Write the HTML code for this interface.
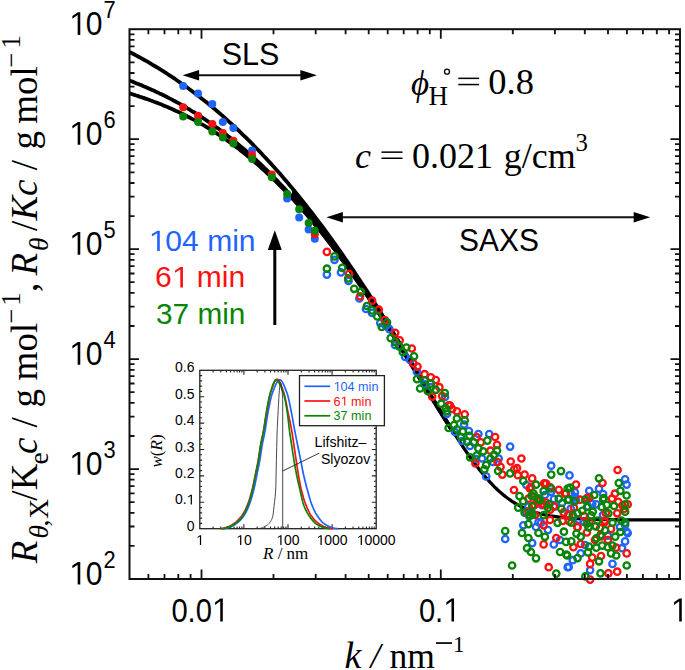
<!DOCTYPE html>
<html><head><meta charset="utf-8"><style>
html,body{margin:0;padding:0;background:#fff;}
svg{display:block;}
text{fill:#000;}
</style></head><body>
<svg width="685" height="670" viewBox="0 0 685 670">
<rect width="685" height="670" fill="#fff"/>
<path d="M129.5 93.4L131.5 94L133.5 94.6L135.5 95.3L137.5 95.9L139.5 96.6L141.5 97.2L143.5 97.9L145.5 98.6L147.5 99.3L149.5 100L151.5 100.7L153.5 101.5L155.5 102.2L157.5 103L159.5 103.8L161.5 104.6L163.5 105.4L165.5 106.3L167.5 107.1L169.5 108L171.5 108.8L173.5 109.7L175.5 110.7L177.5 111.6L179.5 112.5L181.5 113.5L183.5 114.5L185.5 115.5L187.5 116.5L189.5 117.5L191.5 118.6L193.5 119.6L195.5 120.7L197.5 121.8L199.5 122.9L201.5 124.1L203.5 125.2L205.5 126.4L207.5 127.6L209.5 128.8L211.5 130.1L213.5 131.3L215.5 132.6L217.5 133.9L219.5 135.2L221.5 136.6L223.5 137.9L225.5 139.3L227.5 140.7L229.5 142.1L231.5 143.6L233.5 145.1L235.5 146.6L237.5 148.1L239.5 149.6L241.5 151.2L243.5 152.7L245.5 154.3L247.5 156L249.5 157.6L251.5 159.3L253.5 161L255.5 162.7L257.5 164.4L259.5 166.2L261.5 168L263.5 169.8L265.5 171.6L267.5 173.5L269.5 175.4L271.5 177.3L273.5 179.2L275.5 181.2L277.5 183.1L279.5 185.1L281.5 187.2L283.5 189.2L285.5 191.3L287.5 193.4L289.5 195.5L291.5 197.6L293.5 199.8L295.5 202L297.5 204.2L299.5 206.4L301.5 208.7L303.5 211L305.5 213.3L307.5 215.6L309.5 218L311.5 220.4L313.5 222.8L315.5 225.2L317.5 227.6L319.5 230.1L321.5 232.6L323.5 235.1L325.5 237.7L327.5 240.2L329.5 242.8L331.5 245.4L333.5 248.1L335.5 250.7L337.5 253.4L339.5 256.1L341.5 258.8L343.5 261.5L345.5 264.3L347.5 267.1L349.5 269.9L351.5 272.7L353.5 275.5L355.5 278.4L357.5 281.3L359.5 284.1L361.5 287.1L363.5 290L365.5 292.9L367.5 295.9L369.5 298.9L371.5 301.9L373.5 304.9L375.5 308L377.5 311L379.5 314.1L381.5 317.2L383.5 320.3L385.5 323.4L387.5 326.5L389.5 329.7L391.5 332.8L393.5 336L395.5 339.2L397.5 342.4L399.5 345.6L401.5 348.8L403.5 352L405.5 355.2L407.5 358.5L409.5 361.7L411.5 365L413.5 368.2L415.5 371.5L417.5 374.8L419.5 378L421.5 381.3L423.5 384.6L425.5 387.8L427.5 391.1L429.5 394.4L431.5 397.6L433.5 400.9L435.5 404.1L437.5 407.4L439.5 410.6L441.5 413.8L443.5 417L445.5 420.2L447.5 423.3L449.5 426.5L451.5 429.6" stroke="#000" stroke-width="3.8" fill="none" stroke-linejoin="round"/>
<path d="M129.5 80.6L131.5 81.3L133.5 82.1L135.5 82.9L137.5 83.7L139.5 84.5L141.5 85.3L143.5 86.2L145.5 87L147.5 87.9L149.5 88.8L151.5 89.7L153.5 90.6L155.5 91.5L157.5 92.4L159.5 93.4L161.5 94.3L163.5 95.3L165.5 96.3L167.5 97.3L169.5 98.4L171.5 99.4L173.5 100.5L175.5 101.5L177.5 102.6L179.5 103.7L181.5 104.9L183.5 106L185.5 107.2L187.5 108.4L189.5 109.5L191.5 110.8L193.5 112L195.5 113.2L197.5 114.5L199.5 115.8L201.5 117.1L203.5 118.4L205.5 119.7L207.5 121.1L209.5 122.5L211.5 123.8L213.5 125.3L215.5 126.7L217.5 128.1L219.5 129.6L221.5 131.1L223.5 132.6L225.5 134.1L227.5 135.7L229.5 137.2L231.5 138.8L233.5 140.4L235.5 142.1L237.5 143.7L239.5 145.4L241.5 147.1L243.5 148.8L245.5 150.5L247.5 152.3L249.5 154L251.5 155.8L253.5 157.6L255.5 159.5L257.5 161.3L259.5 163.2L261.5 165.1L263.5 167L265.5 169L267.5 170.9L269.5 172.9L271.5 174.9L273.5 177L275.5 179L277.5 181.1L279.5 183.2L281.5 185.3L283.5 187.4L285.5 189.6L287.5 191.8L289.5 194L291.5 196.2L293.5 198.4L295.5 200.7L297.5 203L299.5 205.3L301.5 207.6L303.5 210L305.5 212.3L307.5 214.7L309.5 217.1L311.5 219.6L313.5 222L315.5 224.5L317.5 227L319.5 229.5L321.5 232.1L323.5 234.6L325.5 237.2L327.5 239.8L329.5 242.4L331.5 245.1L333.5 247.7L335.5 250.4L337.5 253.1L339.5 255.8L341.5 258.6L343.5 261.3L345.5 264.1L347.5 266.9L349.5 269.7L351.5 272.6L353.5 275.4L355.5 278.3L357.5 281.2L359.5 284.1L361.5 287L363.5 290L365.5 292.9L367.5 295.9L369.5 298.9L371.5 301.9L373.5 304.9L375.5 308L377.5 311L379.5 314.1L381.5 317.2L383.5 320.3L385.5 323.4L387.5 326.5L389.5 329.7L391.5 332.8L393.5 336L395.5 339.2L397.5 342.4L399.5 345.6L401.5 348.8L403.5 352L405.5 355.2L407.5 358.5L409.5 361.7L411.5 364.9L413.5 368.2L415.5 371.5L417.5 374.7L419.5 378L421.5 381.3L423.5 384.5L425.5 387.8L427.5 391.1L429.5 394.3L431.5 397.6L433.5 400.8L435.5 404.1L437.5 407.3L439.5 410.5L441.5 413.7L443.5 416.9L445.5 420.1L447.5 423.3L449.5 426.4L451.5 429.5" stroke="#000" stroke-width="3.8" fill="none" stroke-linejoin="round"/>
<path d="M129.5 51.9L131.5 53L133.5 54L135.5 55.1L137.5 56.2L139.5 57.2L141.5 58.3L143.5 59.5L145.5 60.6L147.5 61.7L149.5 62.9L151.5 64.1L153.5 65.3L155.5 66.5L157.5 67.7L159.5 68.9L161.5 70.2L163.5 71.4L165.5 72.7L167.5 74L169.5 75.3L171.5 76.6L173.5 77.9L175.5 79.3L177.5 80.7L179.5 82.1L181.5 83.5L183.5 84.9L185.5 86.3L187.5 87.8L189.5 89.2L191.5 90.7L193.5 92.2L195.5 93.7L197.5 95.2L199.5 96.8L201.5 98.4L203.5 99.9L205.5 101.5L207.5 103.1L209.5 104.8L211.5 106.4L213.5 108.1L215.5 109.8L217.5 111.5L219.5 113.2L221.5 114.9L223.5 116.7L225.5 118.5L227.5 120.3L229.5 122.1L231.5 123.9L233.5 125.7L235.5 127.6L237.5 129.5L239.5 131.4L241.5 133.3L243.5 135.3L245.5 137.2L247.5 139.2L249.5 141.2L251.5 143.2L253.5 145.2L255.5 147.3L257.5 149.3L259.5 151.4L261.5 153.5L263.5 155.7L265.5 157.8L267.5 160L269.5 162.1L271.5 164.3L273.5 166.6L275.5 168.8L277.5 171.1L279.5 173.3L281.5 175.6L283.5 177.9L285.5 180.3L287.5 182.6L289.5 185L291.5 187.4L293.5 189.8L295.5 192.2L297.5 194.7L299.5 197.1L301.5 199.6L303.5 202.1L305.5 204.7L307.5 207.2L309.5 209.8L311.5 212.3L313.5 214.9L315.5 217.6L317.5 220.2L319.5 222.8L321.5 225.5L323.5 228.2L325.5 230.9L327.5 233.6L329.5 236.4L331.5 239.2L333.5 241.9L335.5 244.7L337.5 247.6L339.5 250.4L341.5 253.2L343.5 256.1L345.5 259L347.5 261.9L349.5 264.8L351.5 267.8L353.5 270.7L355.5 273.7L357.5 276.7L359.5 279.7L361.5 282.7L363.5 285.8L365.5 288.8L367.5 291.9L369.5 295L371.5 298.1L373.5 301.2L375.5 304.3L377.5 307.5L379.5 310.6L381.5 313.8L383.5 317L385.5 320.2L387.5 323.4L389.5 326.6L391.5 329.9L393.5 333.1L395.5 336.4L397.5 339.6L399.5 342.9L401.5 346.2L403.5 349.5L405.5 352.8L407.5 356.1L409.5 359.5L411.5 362.8L413.5 366.1L415.5 369.5L417.5 372.8L419.5 376.2L421.5 379.5L423.5 382.9L425.5 386.2L427.5 389.5L429.5 392.9L431.5 396.2L433.5 399.6L435.5 402.9L437.5 406.2L439.5 409.5L441.5 412.8L443.5 416.1L445.5 419.3L447.5 422.6L449.5 425.8L451.5 429" stroke="#000" stroke-width="3.8" fill="none" stroke-linejoin="round"/>
<path d="M446 420.1L448 423.4L450 426.6L452 429.8L454 433L456 436.1L458 439.2L460 442.2L462 445.3L464 448.3L466 451.2L468 454.1L470 457L472 459.8L474 462.5L476 465.2L478 467.8L480 470.4L482 472.8L484 475.3L486 477.6L488 479.9L490 482.1L492 484.2L494 486.3L496 488.3L498 490.2L500 492L502 493.7L504 495.4L506 497L508 498.5L510 499.9L512 501.3L514 502.5L516 503.8L518 504.9L520 506L522 507L524 507.9L526 508.8L528 509.7L530 510.4L532 511.2L534 511.8L536 512.5L538 513L540 513.6L542 514.1L544 514.6L546 515L548 515.4L550 515.8L552 516.1L554 516.4L556 516.7L558 517L560 517.2L562 517.5L564 517.7L566 517.9L568 518L570 518.2L572 518.3L574 518.5L576 518.6L578 518.7L580 518.8L582 518.9L584 519L586 519.1L588 519.2L590 519.2L592 519.3L594 519.4L596 519.4L598 519.5L600 519.5L602 519.5L604 519.6L606 519.6L608 519.6L610 519.7L612 519.7L614 519.7L616 519.7L618 519.8L620 519.8L622 519.8L624 519.8L626 519.8L628 519.8L630 519.8L632 519.9L634 519.9L636 519.9L638 519.9L640 519.9L642 519.9L644 519.9L646 519.9L648 519.9L650 519.9L652 519.9L654 519.9L656 519.9L658 519.9L660 519.9L662 519.9L664 519.9L666 519.9L668 519.9L670 519.9L672 519.9L674 519.9L676 519.9L678 519.9L680 519.9" stroke="#000" stroke-width="3.3" fill="none" stroke-linejoin="round"/>
<path d="M292 188L294 190.4L296 192.8L298 195.3L300 197.8L302 200.3L304 202.8L306 205.3L308 207.8L310 210.4L312 213L314 215.6L316 218.2L318 220.9L320 223.5L322 226.2L324 228.9L326 231.6L328 234.3L330 237.1L332 239.9L334 242.6L336 245.4L338 248.3L340 251.1L342 254L344 256.8L346 259.7L348 262.6L350 265.6L352 268.5L354 271.5L356 274.5L358 277.4L360 280.5L362 283.5L364 286.5L366 289.6L368 292.7L370 295.7L372 298.9L374 302L376 305.1L378 308.3L380 311.4L382 314.6L384 317.8L386 321L388 324.2L390 327.4L392 330.7L394 333.9L396 337.2L398 340.5L400 343.7L402 347L404 350.3L406 353.7L408 357L410 360.3L412 363.6L414 367L416 370.3L418 373.6L420 377L422 380.3L424 383.7L426 387L428 390.4L430 393.7L430 395.2L428 391.9L426 388.7L424 385.4L422 382.1L420 378.9L418 375.6L416 372.3L414 369.1L412 365.8L410 362.5L408 359.3L406 356L404 352.8L402 349.6L400 346.4L398 343.2L396 340L394 336.8L392 333.6L390 330.5L388 327.3L386 324.2L384 321.1L382 318L380 314.9L378 311.8L376 308.7L374 305.7L372 302.7L370 299.7L368 296.7L366 293.7L364 290.7L362 287.8L360 284.9L358 282L356 279.1L354 276.2L352 273.4L350 270.6L348 267.8L346 265L344 262.2L342 259.5L340 256.8L338 254.1L336 251.4L334 248.7L332 246.1L330 243.5L328 240.9L326 238.3L324 235.8L322 233.2L320 230.7L318 228.3L316 225.8L314 223.4L312 221L310 218.6L308 216.2L306 213.9L304 211.6L302 209.3L300 207L298 204.8L296 202.5L294 200.3L292 198.2Z" fill="#000"/>
<g fill="none" stroke="#1e64ff" stroke-width="2.3"><circle cx="529.4" cy="516.5" r="3.2"/><circle cx="555.1" cy="506.5" r="3.2"/><circle cx="596.3" cy="504.3" r="3.2"/><circle cx="626.8" cy="531.8" r="3.2"/><circle cx="551.2" cy="491.8" r="3.2"/><circle cx="574.5" cy="496.9" r="3.2"/><circle cx="589.2" cy="490.8" r="3.2"/><circle cx="568.3" cy="514.3" r="3.2"/><circle cx="570.7" cy="508.5" r="3.2"/><circle cx="542" cy="505.2" r="3.2"/><circle cx="528.3" cy="506.6" r="3.2"/><circle cx="538.5" cy="522.1" r="3.2"/><circle cx="586.6" cy="500.5" r="3.2"/><circle cx="625.1" cy="524.9" r="3.2"/><circle cx="526.4" cy="485" r="3.2"/><circle cx="531.5" cy="512.9" r="3.2"/><circle cx="553.9" cy="499" r="3.2"/><circle cx="588.1" cy="506.7" r="3.2"/><circle cx="575.8" cy="500.3" r="3.2"/><circle cx="575.3" cy="497.4" r="3.2"/><circle cx="570.9" cy="493.3" r="3.2"/><circle cx="569.5" cy="475.4" r="3.2"/><circle cx="625.1" cy="479.3" r="3.2"/><circle cx="626.6" cy="484.6" r="3.2"/><circle cx="574.9" cy="492.4" r="3.2"/><circle cx="599" cy="488.7" r="3.2"/><circle cx="603.1" cy="494" r="3.2"/><circle cx="592.2" cy="503.9" r="3.2"/><circle cx="578.6" cy="519.6" r="3.2"/><circle cx="627.7" cy="533.1" r="3.2"/><circle cx="607.8" cy="535.7" r="3.2"/><circle cx="625.1" cy="541.4" r="3.2"/><circle cx="622" cy="548.2" r="3.2"/><circle cx="580.7" cy="553.4" r="3.2"/><circle cx="572.8" cy="560.2" r="3.2"/><circle cx="612.5" cy="563.9" r="3.2"/><circle cx="568.7" cy="567" r="3.2"/><circle cx="590.1" cy="570.2" r="3.2"/><circle cx="585" cy="545" r="3.2"/><circle cx="603" cy="515" r="3.2"/><circle cx="620" cy="527" r="3.2"/><circle cx="584" cy="522" r="3.2"/><circle cx="551.2" cy="465.7" r="3.2"/><circle cx="541" cy="522.8" r="3.2"/><circle cx="523.3" cy="525.3" r="3.2"/><circle cx="553.8" cy="544.4" r="3.2"/><circle cx="532.2" cy="543.1" r="3.2"/><circle cx="567.7" cy="567.2" r="3.2"/><circle cx="536" cy="527" r="3.2"/><circle cx="548" cy="530" r="3.2"/><circle cx="560" cy="540" r="3.2"/><circle cx="526" cy="512" r="3.2"/><circle cx="545" cy="495" r="3.2"/><circle cx="562" cy="503" r="3.2"/><circle cx="326.9" cy="274.6" r="3.2"/><circle cx="334.5" cy="259.8" r="3.2"/><circle cx="341" cy="272.4" r="3.2"/><circle cx="359.4" cy="298.5" r="3.2"/><circle cx="380.3" cy="323.1" r="3.2"/><circle cx="389.3" cy="329.1" r="3.2"/><circle cx="405.2" cy="356.9" r="3.2"/><circle cx="417" cy="372" r="3.2"/><circle cx="464.1" cy="424.5" r="3.2"/><circle cx="468.9" cy="431" r="3.2"/><circle cx="478.4" cy="434" r="3.2"/><circle cx="489.2" cy="434" r="3.2"/><circle cx="510.1" cy="446.6" r="3.2"/><circle cx="498.7" cy="458.5" r="3.2"/><circle cx="482" cy="458.5" r="3.2"/><circle cx="486.2" cy="476.4" r="3.2"/><circle cx="505.2" cy="539" r="3.2"/><circle cx="348.5" cy="281" r="3.2"/><circle cx="366" cy="309" r="3.2"/><circle cx="372" cy="313" r="3.2"/><circle cx="386" cy="326" r="3.2"/><circle cx="395" cy="345" r="3.2"/><circle cx="410" cy="360" r="3.2"/><circle cx="424" cy="384" r="3.2"/><circle cx="431" cy="387" r="3.2"/><circle cx="445" cy="397" r="3.2"/><circle cx="447" cy="414" r="3.2"/><circle cx="455" cy="432" r="3.2"/><circle cx="462" cy="441" r="3.2"/><circle cx="470" cy="446" r="3.2"/><circle cx="476" cy="459" r="3.2"/><circle cx="493" cy="462" r="3.2"/></g>
<g fill="none" stroke="#ff1010" stroke-width="2.3"><circle cx="589.4" cy="521.9" r="3.2"/><circle cx="544.1" cy="483.4" r="3.2"/><circle cx="614.9" cy="493.7" r="3.2"/><circle cx="623.9" cy="508.9" r="3.2"/><circle cx="550.3" cy="509.6" r="3.2"/><circle cx="534.2" cy="496.5" r="3.2"/><circle cx="589.6" cy="497.6" r="3.2"/><circle cx="542" cy="504.2" r="3.2"/><circle cx="569" cy="521.1" r="3.2"/><circle cx="605.7" cy="512.9" r="3.2"/><circle cx="528.3" cy="511.5" r="3.2"/><circle cx="534.4" cy="505.1" r="3.2"/><circle cx="601.6" cy="536.4" r="3.2"/><circle cx="531.2" cy="487.1" r="3.2"/><circle cx="550.3" cy="487.3" r="3.2"/><circle cx="529.7" cy="488.3" r="3.2"/><circle cx="563.7" cy="512.4" r="3.2"/><circle cx="617.6" cy="470" r="3.2"/><circle cx="544" cy="504.6" r="3.2"/><circle cx="622.6" cy="505.3" r="3.2"/><circle cx="562.6" cy="520.9" r="3.2"/><circle cx="602.5" cy="483" r="3.2"/><circle cx="576" cy="484.6" r="3.2"/><circle cx="566" cy="493.4" r="3.2"/><circle cx="586.9" cy="498.1" r="3.2"/><circle cx="580.2" cy="499.7" r="3.2"/><circle cx="612" cy="498.7" r="3.2"/><circle cx="618.3" cy="501.8" r="3.2"/><circle cx="627.7" cy="504.4" r="3.2"/><circle cx="573.9" cy="507.5" r="3.2"/><circle cx="568.7" cy="514.9" r="3.2"/><circle cx="617.2" cy="513.3" r="3.2"/><circle cx="583.8" cy="515.9" r="3.2"/><circle cx="604.7" cy="520.6" r="3.2"/><circle cx="577.5" cy="526.9" r="3.2"/><circle cx="600" cy="528" r="3.2"/><circle cx="577.5" cy="527.3" r="3.2"/><circle cx="604.7" cy="522.1" r="3.2"/><circle cx="611" cy="528.9" r="3.2"/><circle cx="586.9" cy="532.5" r="3.2"/><circle cx="580.7" cy="544" r="3.2"/><circle cx="573.4" cy="547.2" r="3.2"/><circle cx="616.2" cy="547.7" r="3.2"/><circle cx="626.7" cy="553.4" r="3.2"/><circle cx="592.2" cy="557.6" r="3.2"/><circle cx="601" cy="556" r="3.2"/><circle cx="590.1" cy="563.9" r="3.2"/><circle cx="608.4" cy="573.3" r="3.2"/><circle cx="617.2" cy="571.7" r="3.2"/><circle cx="590.1" cy="579.6" r="3.2"/><circle cx="595" cy="540" r="3.2"/><circle cx="608" cy="540" r="3.2"/><circle cx="517" cy="468.2" r="3.2"/><circle cx="524.6" cy="474.6" r="3.2"/><circle cx="532.2" cy="478.4" r="3.2"/><circle cx="546.1" cy="483.5" r="3.2"/><circle cx="558.8" cy="489.8" r="3.2"/><circle cx="565.2" cy="493.6" r="3.2"/><circle cx="537.3" cy="501.2" r="3.2"/><circle cx="546.1" cy="502.5" r="3.2"/><circle cx="528.4" cy="498.7" r="3.2"/><circle cx="553.8" cy="506.3" r="3.2"/><circle cx="569" cy="515.2" r="3.2"/><circle cx="543.6" cy="525.3" r="3.2"/><circle cx="556.3" cy="538" r="3.2"/><circle cx="543.6" cy="544.4" r="3.2"/><circle cx="548.7" cy="567.2" r="3.2"/><circle cx="514" cy="490" r="3.2"/><circle cx="535" cy="515" r="3.2"/><circle cx="550" cy="520" r="3.2"/><circle cx="326.9" cy="251.9" r="3.2"/><circle cx="349" cy="273.9" r="3.2"/><circle cx="360.1" cy="296.3" r="3.2"/><circle cx="372.1" cy="300.7" r="3.2"/><circle cx="378.8" cy="309.7" r="3.2"/><circle cx="384.8" cy="320.1" r="3.2"/><circle cx="395.2" cy="332.8" r="3.2"/><circle cx="399.7" cy="340.3" r="3.2"/><circle cx="411.8" cy="348.5" r="3.2"/><circle cx="413.4" cy="363.4" r="3.2"/><circle cx="417.5" cy="366.6" r="3.2"/><circle cx="424.6" cy="374.2" r="3.2"/><circle cx="430.9" cy="377.3" r="3.2"/><circle cx="435.8" cy="380" r="3.2"/><circle cx="439.4" cy="387.2" r="3.2"/><circle cx="432.2" cy="396.6" r="3.2"/><circle cx="442.1" cy="396.1" r="3.2"/><circle cx="450.1" cy="405.5" r="3.2"/><circle cx="448.6" cy="405.4" r="3.2"/><circle cx="452.2" cy="409" r="3.2"/><circle cx="456.9" cy="411.3" r="3.2"/><circle cx="464.7" cy="414.3" r="3.2"/><circle cx="476.6" cy="437" r="3.2"/><circle cx="495.1" cy="437" r="3.2"/><circle cx="480.8" cy="442.4" r="3.2"/><circle cx="497" cy="444.8" r="3.2"/><circle cx="490.4" cy="450.7" r="3.2"/><circle cx="475.4" cy="463.3" r="3.2"/><circle cx="497.5" cy="462.1" r="3.2"/><circle cx="510.7" cy="461.5" r="3.2"/><circle cx="521.4" cy="458.5" r="3.2"/><circle cx="500.5" cy="466.9" r="3.2"/><circle cx="514.3" cy="469.3" r="3.2"/><circle cx="517.8" cy="475.2" r="3.2"/><circle cx="502.3" cy="474.6" r="3.2"/></g>
<g fill="none" stroke="#078507" stroke-width="2.3"><circle cx="538.2" cy="498.4" r="3.2"/><circle cx="582.3" cy="510.9" r="3.2"/><circle cx="572.8" cy="515.3" r="3.2"/><circle cx="561" cy="471.1" r="3.2"/><circle cx="585.1" cy="499.8" r="3.2"/><circle cx="531.5" cy="495.9" r="3.2"/><circle cx="529.7" cy="515.3" r="3.2"/><circle cx="603.1" cy="499.4" r="3.2"/><circle cx="549.1" cy="504.3" r="3.2"/><circle cx="532.5" cy="514.7" r="3.2"/><circle cx="599" cy="478.3" r="3.2"/><circle cx="618.8" cy="483" r="3.2"/><circle cx="620.4" cy="490.8" r="3.2"/><circle cx="626.6" cy="495.5" r="3.2"/><circle cx="570.2" cy="487.7" r="3.2"/><circle cx="594.3" cy="495" r="3.2"/><circle cx="603.7" cy="498.1" r="3.2"/><circle cx="568.7" cy="499.7" r="3.2"/><circle cx="574.4" cy="501.3" r="3.2"/><circle cx="586.9" cy="507" r="3.2"/><circle cx="601.6" cy="507" r="3.2"/><circle cx="606.8" cy="504.9" r="3.2"/><circle cx="614.1" cy="506" r="3.2"/><circle cx="625.1" cy="504.4" r="3.2"/><circle cx="592.7" cy="511.7" r="3.2"/><circle cx="577.5" cy="513.3" r="3.2"/><circle cx="608.4" cy="513.3" r="3.2"/><circle cx="625.1" cy="511.7" r="3.2"/><circle cx="591.1" cy="515.4" r="3.2"/><circle cx="597.4" cy="520.6" r="3.2"/><circle cx="612.5" cy="522.7" r="3.2"/><circle cx="625.1" cy="522.7" r="3.2"/><circle cx="571.3" cy="522.7" r="3.2"/><circle cx="586.9" cy="523.7" r="3.2"/><circle cx="589" cy="526.9" r="3.2"/><circle cx="621.4" cy="520.6" r="3.2"/><circle cx="588.5" cy="527.3" r="3.2"/><circle cx="595.8" cy="526.3" r="3.2"/><circle cx="605.2" cy="530.4" r="3.2"/><circle cx="620.4" cy="532" r="3.2"/><circle cx="576.5" cy="533.6" r="3.2"/><circle cx="580.7" cy="536.7" r="3.2"/><circle cx="600.5" cy="535.2" r="3.2"/><circle cx="596.3" cy="538.3" r="3.2"/><circle cx="615.2" cy="536.7" r="3.2"/><circle cx="571.3" cy="541.4" r="3.2"/><circle cx="566" cy="541.9" r="3.2"/><circle cx="589" cy="546.6" r="3.2"/><circle cx="596.3" cy="547.7" r="3.2"/><circle cx="602.1" cy="545.6" r="3.2"/><circle cx="607.8" cy="547.2" r="3.2"/><circle cx="612.5" cy="545.6" r="3.2"/><circle cx="588" cy="552.4" r="3.2"/><circle cx="611" cy="553.4" r="3.2"/><circle cx="616.2" cy="555.5" r="3.2"/><circle cx="567.1" cy="555.5" r="3.2"/><circle cx="577.5" cy="558.1" r="3.2"/><circle cx="599" cy="561.3" r="3.2"/><circle cx="626.7" cy="565.5" r="3.2"/><circle cx="600.5" cy="573.3" r="3.2"/><circle cx="585.4" cy="576.4" r="3.2"/><circle cx="523.3" cy="481" r="3.2"/><circle cx="551.2" cy="474.6" r="3.2"/><circle cx="536" cy="484.7" r="3.2"/><circle cx="543.6" cy="491.1" r="3.2"/><circle cx="551.2" cy="488.5" r="3.2"/><circle cx="567.7" cy="488.5" r="3.2"/><circle cx="558.8" cy="498.7" r="3.2"/><circle cx="567.7" cy="500" r="3.2"/><circle cx="533.5" cy="493.6" r="3.2"/><circle cx="532.2" cy="506.3" r="3.2"/><circle cx="523.3" cy="501.2" r="3.2"/><circle cx="519.5" cy="496.1" r="3.2"/><circle cx="518.2" cy="507.6" r="3.2"/><circle cx="524.6" cy="512.6" r="3.2"/><circle cx="543.6" cy="515.2" r="3.2"/><circle cx="561.4" cy="508.8" r="3.2"/><circle cx="557.6" cy="522.8" r="3.2"/><circle cx="528.4" cy="524.1" r="3.2"/><circle cx="522" cy="533" r="3.2"/><circle cx="528.4" cy="538" r="3.2"/><circle cx="538.5" cy="533" r="3.2"/><circle cx="544.9" cy="536.8" r="3.2"/><circle cx="563.9" cy="531.7" r="3.2"/><circle cx="527.1" cy="548.2" r="3.2"/><circle cx="530.9" cy="552" r="3.2"/><circle cx="536" cy="558.3" r="3.2"/><circle cx="560.1" cy="552" r="3.2"/><circle cx="566.4" cy="554.5" r="3.2"/><circle cx="556.3" cy="573.6" r="3.2"/><circle cx="540" cy="500" r="3.2"/><circle cx="548" cy="508" r="3.2"/><circle cx="326.9" cy="268.7" r="3.2"/><circle cx="334.5" cy="256.4" r="3.2"/><circle cx="342.2" cy="267.9" r="3.2"/><circle cx="348.2" cy="278.4" r="3.2"/><circle cx="354.2" cy="288.8" r="3.2"/><circle cx="360.9" cy="291.8" r="3.2"/><circle cx="366.9" cy="306" r="3.2"/><circle cx="372.1" cy="310.4" r="3.2"/><circle cx="377.3" cy="316.4" r="3.2"/><circle cx="387" cy="322.4" r="3.2"/><circle cx="381.8" cy="326.9" r="3.2"/><circle cx="390.7" cy="338.1" r="3.2"/><circle cx="395.2" cy="341.8" r="3.2"/><circle cx="399" cy="346.3" r="3.2"/><circle cx="406.4" cy="347.5" r="3.2"/><circle cx="402.8" cy="352.1" r="3.2"/><circle cx="414" cy="356.3" r="3.2"/><circle cx="417" cy="379.1" r="3.2"/><circle cx="424.6" cy="380.4" r="3.2"/><circle cx="430.9" cy="383.6" r="3.2"/><circle cx="420.1" cy="388.5" r="3.2"/><circle cx="427.8" cy="391.2" r="3.2"/><circle cx="435.8" cy="389.8" r="3.2"/><circle cx="444.8" cy="393" r="3.2"/><circle cx="441.2" cy="403.7" r="3.2"/><circle cx="445.7" cy="408.2" r="3.2"/><circle cx="446.8" cy="411.3" r="3.2"/><circle cx="456.9" cy="418.5" r="3.2"/><circle cx="464.7" cy="420.3" r="3.2"/><circle cx="454" cy="425" r="3.2"/><circle cx="448.6" cy="428" r="3.2"/><circle cx="456.9" cy="429.3" r="3.2"/><circle cx="462.9" cy="431.6" r="3.2"/><circle cx="461.1" cy="437" r="3.2"/><circle cx="469.5" cy="435.8" r="3.2"/><circle cx="467.1" cy="441.8" r="3.2"/><circle cx="473.7" cy="442.4" r="3.2"/><circle cx="487.4" cy="440.6" r="3.2"/><circle cx="478.4" cy="448.4" r="3.2"/><circle cx="483.2" cy="451.3" r="3.2"/><circle cx="497" cy="450.7" r="3.2"/><circle cx="470.1" cy="457.3" r="3.2"/><circle cx="476.6" cy="455.5" r="3.2"/><circle cx="490.4" cy="458.5" r="3.2"/><circle cx="494" cy="454.9" r="3.2"/><circle cx="486.2" cy="465.1" r="3.2"/><circle cx="484.4" cy="469.3" r="3.2"/><circle cx="498.1" cy="471" r="3.2"/><circle cx="510.1" cy="473.4" r="3.2"/><circle cx="505.2" cy="531" r="3.2"/><circle cx="512.1" cy="565.5" r="3.2"/></g>
<g fill="#1e64ff"><circle cx="183.2" cy="86" r="4"/><circle cx="198.1" cy="93.5" r="4"/><circle cx="212.3" cy="104" r="4"/><circle cx="222.8" cy="121.9" r="4"/><circle cx="233.4" cy="127.9" r="4"/><circle cx="252.1" cy="150.5" r="4"/><circle cx="287.1" cy="198.6" r="4"/><circle cx="299.2" cy="217.4" r="4"/><circle cx="308.6" cy="229.6" r="4"/><circle cx="314.8" cy="238.7" r="4"/></g>
<g fill="#ff1010"><circle cx="183.2" cy="107.2" r="4"/><circle cx="198.1" cy="115.7" r="4"/><circle cx="212.3" cy="123.9" r="4"/><circle cx="222.8" cy="133" r="4"/><circle cx="233.4" cy="140.8" r="4"/><circle cx="252.1" cy="155" r="4"/><circle cx="271.8" cy="174.5" r="4"/><circle cx="314.8" cy="234.3" r="4"/></g>
<g fill="#078507"><circle cx="183.2" cy="116.4" r="4"/><circle cx="198.1" cy="121.9" r="4"/><circle cx="212.3" cy="131.6" r="4"/><circle cx="222.8" cy="137.5" r="4"/><circle cx="233.4" cy="143.6" r="4"/><circle cx="252.1" cy="159" r="4"/><circle cx="271.8" cy="177.2" r="4"/><circle cx="287.1" cy="194" r="4"/><circle cx="299.2" cy="209.3" r="4"/><circle cx="308.6" cy="223" r="4"/><circle cx="314.8" cy="230.8" r="4"/></g>
<path d="M148.4 579v-5M148.4 29.2v5M164.5 579v-5M164.5 29.2v5M178.3 579v-5M178.3 29.2v5M190.6 579v-5M190.6 29.2v5M273.5 579v-5M273.5 29.2v5M315.7 579v-5M315.7 29.2v5M345.6 579v-5M345.6 29.2v5M368.7 579v-5M368.7 29.2v5M387.7 579v-5M387.7 29.2v5M403.7 579v-5M403.7 29.2v5M417.6 579v-5M417.6 29.2v5M429.8 579v-5M429.8 29.2v5M512.8 579v-5M512.8 29.2v5M554.9 579v-5M554.9 29.2v5M584.8 579v-5M584.8 29.2v5M608 579v-5M608 29.2v5M626.9 579v-5M626.9 29.2v5M642.9 579v-5M642.9 29.2v5M656.8 579v-5M656.8 29.2v5M669.1 579v-5M669.1 29.2v5M201.5 579v-9.5M201.5 29.2v9.5M440.8 579v-9.5M440.8 29.2v9.5M129.5 545.9h5M680 545.9h-5M129.5 526.5h5M680 526.5h-5M129.5 512.8h5M680 512.8h-5M129.5 502.1h5M680 502.1h-5M129.5 493.4h5M680 493.4h-5M129.5 486.1h5M680 486.1h-5M129.5 479.7h5M680 479.7h-5M129.5 474.1h5M680 474.1h-5M129.5 436h5M680 436h-5M129.5 416.6h5M680 416.6h-5M129.5 402.9h5M680 402.9h-5M129.5 392.2h5M680 392.2h-5M129.5 383.5h5M680 383.5h-5M129.5 376.1h5M680 376.1h-5M129.5 369.8h5M680 369.8h-5M129.5 364.1h5M680 364.1h-5M129.5 326h5M680 326h-5M129.5 306.6h5M680 306.6h-5M129.5 292.9h5M680 292.9h-5M129.5 282.2h5M680 282.2h-5M129.5 273.5h5M680 273.5h-5M129.5 266.2h5M680 266.2h-5M129.5 259.8h5M680 259.8h-5M129.5 254.2h5M680 254.2h-5M129.5 216.1h5M680 216.1h-5M129.5 196.7h5M680 196.7h-5M129.5 183h5M680 183h-5M129.5 172.3h5M680 172.3h-5M129.5 163.6h5M680 163.6h-5M129.5 156.2h5M680 156.2h-5M129.5 149.9h5M680 149.9h-5M129.5 144.2h5M680 144.2h-5M129.5 106.1h5M680 106.1h-5M129.5 86.7h5M680 86.7h-5M129.5 73h5M680 73h-5M129.5 62.3h5M680 62.3h-5M129.5 53.6h5M680 53.6h-5M129.5 46.3h5M680 46.3h-5M129.5 39.9h5M680 39.9h-5M129.5 34.3h5M680 34.3h-5M129.5 469.1h9.5M680 469.1h-9.5M129.5 359.1h9.5M680 359.1h-9.5M129.5 249.2h9.5M680 249.2h-9.5M129.5 139.2h9.5M680 139.2h-9.5" stroke="#111" stroke-width="1.8" fill="none"/>
<rect x="129.5" y="29.2" width="550.5" height="549.8" stroke="#111" stroke-width="2" fill="none"/>
<path d="M192.6 75.2H306.9" stroke="#111" stroke-width="1.9"/>
<path d="M182.6 75.2L199.1 70L199.1 80.4Z" fill="#000"/>
<path d="M316.9 75.2L300.4 70L300.4 80.4Z" fill="#000"/>
<path d="M336.4 217.3H640.2" stroke="#111" stroke-width="1.9"/>
<path d="M326.4 217.3L342.9 212.1L342.9 222.5Z" fill="#000"/>
<path d="M650.2 217.3L633.7 212.1L633.7 222.5Z" fill="#000"/>
<path d="M274.8 325V245" stroke="#000" stroke-width="3"/>
<path d="M274.8 230.3L267.8 250L281.8 250Z" fill="#000"/>
<g transform="translate(69.1 584.6) scale(0.91 1)"><text x="0" y="0" style="font-family:&quot;Liberation Sans&quot;,sans-serif;font-size:33px;fill:#000">&#8199;0</text><path transform="translate(0 0) scale(0.01611 -0.01611)" d="M583 0L583 1237L223 1010L223 1180L598 1409L763 1409L763 0Z" fill="#000"/></g>
<text transform="translate(103.4 567.7) scale(0.93 1)" style="font-family:&quot;Liberation Sans&quot;,sans-serif;font-size:23.5px">2</text>
<g transform="translate(69.1 474.7) scale(0.91 1)"><text x="0" y="0" style="font-family:&quot;Liberation Sans&quot;,sans-serif;font-size:33px;fill:#000">&#8199;0</text><path transform="translate(0 0) scale(0.01611 -0.01611)" d="M583 0L583 1237L223 1010L223 1180L598 1409L763 1409L763 0Z" fill="#000"/></g>
<text transform="translate(103.4 457.8) scale(0.93 1)" style="font-family:&quot;Liberation Sans&quot;,sans-serif;font-size:23.5px">3</text>
<g transform="translate(69.1 364.7) scale(0.91 1)"><text x="0" y="0" style="font-family:&quot;Liberation Sans&quot;,sans-serif;font-size:33px;fill:#000">&#8199;0</text><path transform="translate(0 0) scale(0.01611 -0.01611)" d="M583 0L583 1237L223 1010L223 1180L598 1409L763 1409L763 0Z" fill="#000"/></g>
<text transform="translate(103.4 347.8) scale(0.93 1)" style="font-family:&quot;Liberation Sans&quot;,sans-serif;font-size:23.5px">4</text>
<g transform="translate(69.1 254.8) scale(0.91 1)"><text x="0" y="0" style="font-family:&quot;Liberation Sans&quot;,sans-serif;font-size:33px;fill:#000">&#8199;0</text><path transform="translate(0 0) scale(0.01611 -0.01611)" d="M583 0L583 1237L223 1010L223 1180L598 1409L763 1409L763 0Z" fill="#000"/></g>
<text transform="translate(103.4 237.8) scale(0.93 1)" style="font-family:&quot;Liberation Sans&quot;,sans-serif;font-size:23.5px">5</text>
<g transform="translate(69.1 144.8) scale(0.91 1)"><text x="0" y="0" style="font-family:&quot;Liberation Sans&quot;,sans-serif;font-size:33px;fill:#000">&#8199;0</text><path transform="translate(0 0) scale(0.01611 -0.01611)" d="M583 0L583 1237L223 1010L223 1180L598 1409L763 1409L763 0Z" fill="#000"/></g>
<text transform="translate(103.4 127.9) scale(0.93 1)" style="font-family:&quot;Liberation Sans&quot;,sans-serif;font-size:23.5px">6</text>
<g transform="translate(69.1 34.9) scale(0.91 1)"><text x="0" y="0" style="font-family:&quot;Liberation Sans&quot;,sans-serif;font-size:33px;fill:#000">&#8199;0</text><path transform="translate(0 0) scale(0.01611 -0.01611)" d="M583 0L583 1237L223 1010L223 1180L598 1409L763 1409L763 0Z" fill="#000"/></g>
<text transform="translate(103.4 17.9) scale(0.93 1)" style="font-family:&quot;Liberation Sans&quot;,sans-serif;font-size:23.5px">7</text>
<g transform="translate(171.4 621.6) scale(0.87 1)"><text x="0" y="0" style="font-family:&quot;Liberation Sans&quot;,sans-serif;font-size:33.5px;fill:#000">0.0&#8199;</text><path transform="translate(46.6 0) scale(0.01636 -0.01636)" d="M583 0L583 1237L223 1010L223 1180L598 1409L763 1409L763 0Z" fill="#000"/></g>
<g transform="translate(418.9 621.6) scale(0.87 1)"><text x="0" y="0" style="font-family:&quot;Liberation Sans&quot;,sans-serif;font-size:33.5px;fill:#000">0.&#8199;</text><path transform="translate(27.9 0) scale(0.01636 -0.01636)" d="M583 0L583 1237L223 1010L223 1180L598 1409L763 1409L763 0Z" fill="#000"/></g>
<g transform="translate(670.9 621.6) scale(0.87 1)"><text x="0" y="0" style="font-family:&quot;Liberation Sans&quot;,sans-serif;font-size:33.5px;fill:#000">&#8199;</text><path transform="translate(0 0) scale(0.01636 -0.01636)" d="M583 0L583 1237L223 1010L223 1180L598 1409L763 1409L763 0Z" fill="#000"/></g>
<text x="344.5" y="667.6" style="font-family:&quot;Liberation Serif&quot;,serif;font-size:38px"><tspan font-style="italic">k</tspan></text>
<text x="370.5" y="667.6" style="font-family:&quot;Liberation Serif&quot;,serif;font-size:36px;font-style:italic">/</text>
<text x="389.5" y="667.6" style="font-family:&quot;Liberation Serif&quot;,serif;font-size:35.5px">nm</text>
<rect x="436" y="642.2" width="16" height="1.7" fill="#000"/>
<text x="453" y="651.6" style="font-family:&quot;Liberation Serif&quot;,serif;font-size:23px">1</text>
<text x="250.5" y="64.5" text-anchor="middle" style="font-family:&quot;Liberation Sans&quot;,sans-serif;font-size:30.5px">SLS</text>
<text transform="translate(499 251) scale(0.965 1)" text-anchor="middle" style="font-family:&quot;Liberation Sans&quot;,sans-serif;font-size:31px">SAXS</text>
<g transform="translate(148.6 251) scale(1.02 1)"><text x="0" y="0" style="font-family:&quot;Liberation Sans&quot;,sans-serif;font-size:29.5px;fill:#1e64ff">&#8199;04 min</text><path transform="translate(0 0) scale(0.01440 -0.01440)" d="M583 0L583 1237L223 1010L223 1180L598 1409L763 1409L763 0Z" fill="#1e64ff"/></g>
<g transform="translate(155 287.4) scale(1.02 1)"><text x="0" y="0" style="font-family:&quot;Liberation Sans&quot;,sans-serif;font-size:29.5px;fill:#ff1010">6&#8199; min</text><path transform="translate(16.4 0) scale(0.01440 -0.01440)" d="M583 0L583 1237L223 1010L223 1180L598 1409L763 1409L763 0Z" fill="#ff1010"/></g>
<text transform="translate(156 323.6) scale(1.01 1)" style="font-family:&quot;Liberation Sans&quot;,sans-serif;font-size:29.5px;fill:#078507">37 min</text>
<text x="411" y="94.5" style="font-family:&quot;Liberation Serif&quot;,serif;font-size:35px;font-style:italic">&#981;</text>
<text x="428.5" y="104.6" style="font-family:&quot;Liberation Serif&quot;,serif;font-size:27px">H</text>
<circle cx="447" cy="71.7" r="2.5" fill="none" stroke="#000" stroke-width="1.3"/>
<rect x="458.3" y="77.6" width="20.8" height="1.5" fill="#000"/><rect x="458.3" y="83.8" width="20.8" height="1.5" fill="#000"/>
<text x="488.3" y="94" style="font-family:&quot;Liberation Serif&quot;,serif;font-size:36.5px">0.8</text>
<text x="355" y="167.6" style="font-family:&quot;Liberation Serif&quot;,serif;font-size:36px"><tspan font-style="italic">c</tspan></text>
<rect x="381.5" y="151.4" width="21" height="1.5" fill="#000"/><rect x="381.5" y="157.5" width="21" height="1.5" fill="#000"/>
<text x="412" y="167.6" style="font-family:&quot;Liberation Serif&quot;,serif;font-size:36px">0.021</text>
<text x="503.8" y="167.6" style="font-family:&quot;Liberation Serif&quot;,serif;font-size:36px">g/cm</text>
<text x="575.6" y="150.6" style="font-family:&quot;Liberation Serif&quot;,serif;font-size:24.8px">3</text>
<text transform="translate(37 563.2) rotate(-90)" style="font-family:&quot;Liberation Serif&quot;,serif;font-size:37px;font-style:italic">R</text>
<text transform="translate(48 538.5) rotate(-90)" style="font-family:&quot;Liberation Serif&quot;,serif;font-size:27.5px;font-style:italic">&#952;</text>
<text transform="translate(48 526.5) rotate(-90)" style="font-family:&quot;Liberation Serif&quot;,serif;font-size:27.5px">,</text>
<text transform="translate(48 518.8) rotate(-90)" style="font-family:&quot;Liberation Serif&quot;,serif;font-size:27.5px">X</text>
<text transform="translate(37 500.7) rotate(-90)" style="font-family:&quot;Liberation Serif&quot;,serif;font-size:37px">/</text>
<text transform="translate(37 490.3) rotate(-90)" style="font-family:&quot;Liberation Serif&quot;,serif;font-size:37px">K</text>
<text transform="translate(48 464.6) rotate(-90)" style="font-family:&quot;Liberation Serif&quot;,serif;font-size:27.5px">e</text>
<text transform="translate(37 453.9) rotate(-90)" style="font-family:&quot;Liberation Serif&quot;,serif;font-size:37px;font-style:italic">c</text>
<text transform="translate(37 427.5) rotate(-90)" style="font-family:&quot;Liberation Serif&quot;,serif;font-size:37px">/</text>
<text transform="translate(37 407.4) rotate(-90)" style="font-family:&quot;Liberation Serif&quot;,serif;font-size:37px">g</text>
<text transform="translate(37 380.4) rotate(-90)" style="font-family:&quot;Liberation Serif&quot;,serif;font-size:37px">mol</text>
<text transform="translate(20.1 323.4) rotate(-90)" style="font-family:&quot;Liberation Serif&quot;,serif;font-size:26.5px">&#8722;</text>
<text transform="translate(20.1 305.7) rotate(-90)" style="font-family:&quot;Liberation Serif&quot;,serif;font-size:26.5px">1</text>
<text transform="translate(37 292) rotate(-90)" style="font-family:&quot;Liberation Serif&quot;,serif;font-size:37px">,</text>
<text transform="translate(37 275.5) rotate(-90)" style="font-family:&quot;Liberation Serif&quot;,serif;font-size:37px;font-style:italic">R</text>
<text transform="translate(48 250.9) rotate(-90)" style="font-family:&quot;Liberation Serif&quot;,serif;font-size:27.5px;font-style:italic">&#952;</text>
<text transform="translate(37 230.9) rotate(-90)" style="font-family:&quot;Liberation Serif&quot;,serif;font-size:37px">/</text>
<text transform="translate(37 220.6) rotate(-90)" style="font-family:&quot;Liberation Serif&quot;,serif;font-size:37px;font-style:italic">Kc</text>
<text transform="translate(37 170.3) rotate(-90)" style="font-family:&quot;Liberation Serif&quot;,serif;font-size:37px">/</text>
<text transform="translate(37 149.5) rotate(-90)" style="font-family:&quot;Liberation Serif&quot;,serif;font-size:37px">g</text>
<text transform="translate(37 123.8) rotate(-90)" style="font-family:&quot;Liberation Serif&quot;,serif;font-size:37px">mol</text>
<text transform="translate(20.1 67.6) rotate(-90)" style="font-family:&quot;Liberation Serif&quot;,serif;font-size:26.5px">&#8722;</text>
<text transform="translate(20.1 48.5) rotate(-90)" style="font-family:&quot;Liberation Serif&quot;,serif;font-size:26.5px">1</text>
<g><rect x="199.8" y="370.3" width="176.4" height="158.4" fill="#fff" stroke="#222" stroke-width="1.3"/>
<path d="M213.1 528.7v-2.3M213.1 370.3v2.3M220.8 528.7v-2.3M220.8 370.3v2.3M226.4 528.7v-2.3M226.4 370.3v2.3M230.6 528.7v-2.3M230.6 370.3v2.3M234.1 528.7v-2.3M234.1 370.3v2.3M237.1 528.7v-2.3M237.1 370.3v2.3M239.6 528.7v-2.3M239.6 370.3v2.3M241.9 528.7v-2.3M241.9 370.3v2.3M257.2 528.7v-2.3M257.2 370.3v2.3M264.9 528.7v-2.3M264.9 370.3v2.3M270.5 528.7v-2.3M270.5 370.3v2.3M274.7 528.7v-2.3M274.7 370.3v2.3M278.2 528.7v-2.3M278.2 370.3v2.3M281.2 528.7v-2.3M281.2 370.3v2.3M283.7 528.7v-2.3M283.7 370.3v2.3M286 528.7v-2.3M286 370.3v2.3M243.9 528.7v-4.4M243.9 370.3v4.4M301.3 528.7v-2.3M301.3 370.3v2.3M309 528.7v-2.3M309 370.3v2.3M314.6 528.7v-2.3M314.6 370.3v2.3M318.8 528.7v-2.3M318.8 370.3v2.3M322.3 528.7v-2.3M322.3 370.3v2.3M325.3 528.7v-2.3M325.3 370.3v2.3M327.8 528.7v-2.3M327.8 370.3v2.3M330.1 528.7v-2.3M330.1 370.3v2.3M288 528.7v-4.4M288 370.3v4.4M345.4 528.7v-2.3M345.4 370.3v2.3M353.1 528.7v-2.3M353.1 370.3v2.3M358.7 528.7v-2.3M358.7 370.3v2.3M362.9 528.7v-2.3M362.9 370.3v2.3M366.4 528.7v-2.3M366.4 370.3v2.3M369.4 528.7v-2.3M369.4 370.3v2.3M371.9 528.7v-2.3M371.9 370.3v2.3M374.2 528.7v-2.3M374.2 370.3v2.3M332.1 528.7v-4.4M332.1 370.3v4.4M199.8 523.4h2.3M376.2 523.4h-2.3M199.8 518.1h2.3M376.2 518.1h-2.3M199.8 512.9h2.3M376.2 512.9h-2.3M199.8 507.6h2.3M376.2 507.6h-2.3M199.8 502.3h4.4M376.2 502.3h-4.4M199.8 497h2.3M376.2 497h-2.3M199.8 491.7h2.3M376.2 491.7h-2.3M199.8 486.5h2.3M376.2 486.5h-2.3M199.8 481.2h2.3M376.2 481.2h-2.3M199.8 475.9h4.4M376.2 475.9h-4.4M199.8 470.6h2.3M376.2 470.6h-2.3M199.8 465.3h2.3M376.2 465.3h-2.3M199.8 460.1h2.3M376.2 460.1h-2.3M199.8 454.8h2.3M376.2 454.8h-2.3M199.8 449.5h4.4M376.2 449.5h-4.4M199.8 444.2h2.3M376.2 444.2h-2.3M199.8 438.9h2.3M376.2 438.9h-2.3M199.8 433.7h2.3M376.2 433.7h-2.3M199.8 428.4h2.3M376.2 428.4h-2.3M199.8 423.1h4.4M376.2 423.1h-4.4M199.8 417.8h2.3M376.2 417.8h-2.3M199.8 412.5h2.3M376.2 412.5h-2.3M199.8 407.3h2.3M376.2 407.3h-2.3M199.8 402h2.3M376.2 402h-2.3M199.8 396.7h4.4M376.2 396.7h-4.4M199.8 391.4h2.3M376.2 391.4h-2.3M199.8 386.1h2.3M376.2 386.1h-2.3M199.8 380.9h2.3M376.2 380.9h-2.3M199.8 375.6h2.3M376.2 375.6h-2.3" stroke="#222" stroke-width="1.1" fill="none"/>
<text x="194.5" y="530.8" text-anchor="end" style="font-family:&quot;Liberation Sans&quot;,sans-serif;font-size:14px">0</text>
<g transform="translate(175 504.4) scale(1.0 1)"><text x="0" y="0" style="font-family:&quot;Liberation Sans&quot;,sans-serif;font-size:14px;fill:#000">0.&#8199;</text><path transform="translate(11.7 0) scale(0.00684 -0.00684)" d="M583 0L583 1237L223 1010L223 1180L598 1409L763 1409L763 0Z" fill="#000"/></g>
<text x="194.5" y="478" text-anchor="end" style="font-family:&quot;Liberation Sans&quot;,sans-serif;font-size:14px">0.2</text>
<text x="194.5" y="451.6" text-anchor="end" style="font-family:&quot;Liberation Sans&quot;,sans-serif;font-size:14px">0.3</text>
<text x="194.5" y="425.2" text-anchor="end" style="font-family:&quot;Liberation Sans&quot;,sans-serif;font-size:14px">0.4</text>
<text x="194.5" y="398.8" text-anchor="end" style="font-family:&quot;Liberation Sans&quot;,sans-serif;font-size:14px">0.5</text>
<text x="194.5" y="372.4" text-anchor="end" style="font-family:&quot;Liberation Sans&quot;,sans-serif;font-size:14px">0.6</text>
<g transform="translate(195.9 545) scale(1.0 1)"><text x="0" y="0" style="font-family:&quot;Liberation Sans&quot;,sans-serif;font-size:14px;fill:#000">&#8199;</text><path transform="translate(0 0) scale(0.00684 -0.00684)" d="M583 0L583 1237L223 1010L223 1180L598 1409L763 1409L763 0Z" fill="#000"/></g>
<g transform="translate(236.1 545) scale(1.0 1)"><text x="0" y="0" style="font-family:&quot;Liberation Sans&quot;,sans-serif;font-size:14px;fill:#000">&#8199;0</text><path transform="translate(0 0) scale(0.00684 -0.00684)" d="M583 0L583 1237L223 1010L223 1180L598 1409L763 1409L763 0Z" fill="#000"/></g>
<g transform="translate(276.3 545) scale(1.0 1)"><text x="0" y="0" style="font-family:&quot;Liberation Sans&quot;,sans-serif;font-size:14px;fill:#000">&#8199;00</text><path transform="translate(0 0) scale(0.00684 -0.00684)" d="M583 0L583 1237L223 1010L223 1180L598 1409L763 1409L763 0Z" fill="#000"/></g>
<g transform="translate(316.5 545) scale(1.0 1)"><text x="0" y="0" style="font-family:&quot;Liberation Sans&quot;,sans-serif;font-size:14px;fill:#000">&#8199;000</text><path transform="translate(0 0) scale(0.00684 -0.00684)" d="M583 0L583 1237L223 1010L223 1180L598 1409L763 1409L763 0Z" fill="#000"/></g>
<g transform="translate(356.7 545) scale(1.0 1)"><text x="0" y="0" style="font-family:&quot;Liberation Sans&quot;,sans-serif;font-size:14px;fill:#000">&#8199;0000</text><path transform="translate(0 0) scale(0.00684 -0.00684)" d="M583 0L583 1237L223 1010L223 1180L598 1409L763 1409L763 0Z" fill="#000"/></g>
<text x="263" y="559.4" style="font-family:&quot;Liberation Serif&quot;,serif;font-size:17px"><tspan font-style="italic">R</tspan> / nm</text>
<text transform="translate(161.7 467.5) rotate(-90)" style="font-family:&quot;Liberation Serif&quot;,serif;font-size:17px"><tspan font-style="italic">w</tspan>(<tspan font-style="italic">R</tspan>)</text>
<path d="M223 528.7L223.5 528.7L224 528.6L224.5 528.5L225 528.4L225.5 528.4L226 528.3L226.5 528.1L227 528L227.5 527.9L228 527.8L228.5 527.6L229 527.5L229.5 527.3L230 527.1L230.5 526.9L231 526.7L231.5 526.4L232 526.2L232.5 525.9L233 525.6L233.5 525.4L234 525.1L234.5 524.8L235 524.5L235.5 524.1L236 523.8L236.5 523.5L237 523.1L237.5 522.7L238 522.3L238.5 521.9L239 521.4L239.5 520.9L240 520.4L240.5 519.9L241 519.4L241.5 518.8L242 518.2L242.5 517.6L243 517L243.5 516.3L244 515.6L244.5 514.8L245 513.9L245.5 513L246 512.1L246.5 511.1L247 510.1L247.5 509L248 507.8L248.5 506.6L249 505.4L249.5 504.2L250 502.8L250.5 501.3L251 499.8L251.5 498.1L252 496.4L252.5 494.6L253 492.7L253.5 490.8L254 488.8L254.5 486.6L255 484.3L255.5 481.8L256 479.3L256.5 476.8L257 474.4L257.5 471.9L258 469.5L258.5 467.1L259 464.6L259.5 462L260 459.2L260.5 456.1L261 452.7L261.5 449.4L262 446.2L262.5 443.4L263 440.8L263.5 438.5L264 436.1L264.5 433.7L265 431L265.5 428L266 424.7L266.5 421.3L267 418L267.5 415L268 412.3L268.5 409.6L269 407L269.5 404.5L270 402.1L270.5 399.8L271 397.7L271.5 395.8L272 394.2L272.5 392.7L273 391.4L273.5 390.1L274 388.8L274.5 387.5L275 386.3L275.5 385.2L276 384.1L276.5 383.1L277 382.2L277.5 381.5L278 380.8L278.5 380.3L279 380L279.5 379.8L280 379.8L280.5 380L281 380.4L281.5 380.9L282 381.6L282.5 382.4L283 383.3L283.5 384.3L284 385.4L284.5 386.6L285 387.8L285.5 389.1L286 390.4L286.5 391.7L287 393L287.5 394.5L288 396.2L288.5 398.2L289 400.4L289.5 402.8L290 405.2L290.5 407.8L291 410.3L291.5 412.9L292 415.4L292.5 418.1L293 420.9L293.5 423.8L294 426.7L294.5 429.4L295 432L295.5 434.6L296 437.1L296.5 439.6L297 442L297.5 444.5L298 447L298.5 449.5L299 451.9L299.5 454.4L300 456.8L300.5 459.3L301 461.8L301.5 464.4L302 467L302.5 469.6L303 472L303.5 474.4L304 476.6L304.5 478.7L305 480.8L305.5 482.8L306 484.8L306.5 486.7L307 488.5L307.5 490.4L308 492.2L308.5 494L309 495.8L309.5 497.6L310 499.3L310.5 501L311 502.5L311.5 503.9L312 505.2L312.5 506.4L313 507.6L313.5 508.7L314 509.8L314.5 510.8L315 511.8L315.5 512.8L316 513.7L316.5 514.5L317 515.4L317.5 516.1L318 516.8L318.5 517.5L319 518.2L319.5 518.9L320 519.5L320.5 520.1L321 520.7L321.5 521.3L322 521.8L322.5 522.3L323 522.8L323.5 523.2L324 523.6L324.5 523.9L325 524.3L325.5 524.6L326 524.9L326.5 525.2L327 525.5L327.5 525.8L328 526.1L328.5 526.4L329 526.6L329.5 526.8L330 527L330.5 527.2L331 527.4L331.5 527.6L332 527.7L332.5 527.9L333 528L333.5 528.1L334 528.2L334.5 528.3L335 528.4L335.5 528.5L336 528.5L336.5 528.6L337 528.6L337.5 528.7L338 528.7" stroke="#1e64ff" stroke-width="1.7" fill="none" stroke-linejoin="round"/>
<path d="M220.5 528.7L221 528.7L221.5 528.6L222 528.5L222.5 528.4L223 528.4L223.5 528.3L224 528.1L224.5 528L225 527.9L225.5 527.8L226 527.6L226.5 527.5L227 527.3L227.5 527.1L228 526.9L228.5 526.7L229 526.5L229.5 526.2L230 526L230.5 525.7L231 525.4L231.5 525.2L232 524.9L232.5 524.6L233 524.3L233.5 523.9L234 523.6L234.5 523.3L235 522.9L235.5 522.5L236 522.1L236.5 521.7L237 521.2L237.5 520.7L238 520.2L238.5 519.7L239 519.2L239.5 518.6L240 518L240.5 517.4L241 516.8L241.5 516.2L242 515.5L242.5 514.7L243 514L243.5 513.1L244 512.2L244.5 511.3L245 510.4L245.5 509.4L246 508.3L246.5 507.2L247 506.1L247.5 504.9L248 503.7L248.5 502.3L249 500.9L249.5 499.3L250 497.7L250.5 496L251 494.2L251.5 492.3L252 490.4L252.5 488.4L253 486.2L253.5 483.8L254 481.4L254.5 478.8L255 476.3L255.5 473.9L256 471.5L256.5 469.1L257 466.6L257.5 464.1L258 461.5L258.5 458.6L259 455.4L259.5 452L260 448.7L260.5 445.6L261 442.9L261.5 440.5L262 438.2L262.5 435.9L263 433.5L263.5 431L264 428.2L264.5 425.3L265 422.2L265.5 419.1L266 416.1L266.5 413.3L267 410.5L267.5 407.6L268 404.7L268.5 401.9L269 399.3L269.5 396.9L270 394.7L270.5 393L271 391.5L271.5 390L272 388.5L272.5 387L273 385.6L273.5 384.3L274 383.2L274.5 382.1L275 381.2L275.5 380.4L276 379.8L276.5 379.4L277 379.3L277.5 379.3L278 379.6L278.5 380.1L279 380.8L279.5 381.6L280 382.6L280.5 383.7L281 384.9L281.5 386.2L282 387.5L282.5 388.9L283 390.4L283.5 391.8L284 393.3L284.5 395L285 397.1L285.5 399.4L286 401.9L286.5 404.5L287 407.2L287.5 409.8L288 412.4L288.5 414.8L289 417.2L289.5 419.5L290 421.8L290.5 424.2L291 426.7L291.5 429.4L292 432.3L292.5 435.5L293 438.9L293.5 442.3L294 445.7L294.5 449L295 452.4L295.5 455.8L296 459.1L296.5 462.5L297 465.9L297.5 469.2L298 472.4L298.5 475.4L299 478.3L299.5 481L300 483.6L300.5 486.1L301 488.4L301.5 490.4L302 492.4L302.5 494.3L303 496.1L303.5 497.9L304 499.5L304.5 501.1L305 502.5L305.5 503.9L306 505.2L306.5 506.4L307 507.6L307.5 508.7L308 509.8L308.5 510.9L309 511.9L309.5 512.9L310 513.8L310.5 514.6L311 515.4L311.5 516.1L312 516.8L312.5 517.5L313 518.1L313.5 518.7L314 519.3L314.5 519.8L315 520.3L315.5 520.8L316 521.3L316.5 521.8L317 522.2L317.5 522.6L318 523L318.5 523.4L319 523.7L319.5 524.1L320 524.4L320.5 524.7L321 525L321.5 525.3L322 525.6L322.5 525.9L323 526.2L323.5 526.4L324 526.7L324.5 526.9L325 527.1L325.5 527.3L326 527.5L326.5 527.7L327 527.8L327.5 527.9L328 528L328.5 528.1L329 528.2L329.5 528.3L330 528.4L330.5 528.5L331 528.6L331.5 528.6L332 528.7L332.5 528.7L333 528.7" stroke="#ff1010" stroke-width="1.7" fill="none" stroke-linejoin="round"/>
<path d="M221.9 528.7L222.4 528.7L222.9 528.6L223.4 528.5L223.9 528.5L224.4 528.4L224.9 528.3L225.4 528.1L225.9 528L226.4 527.9L226.9 527.8L227.4 527.6L227.9 527.5L228.4 527.3L228.9 527.1L229.4 526.9L229.9 526.6L230.4 526.4L230.9 526.1L231.4 525.9L231.9 525.6L232.4 525.3L232.9 525L233.4 524.7L233.9 524.4L234.4 524.1L234.9 523.7L235.4 523.4L235.9 523L236.4 522.6L236.9 522.2L237.4 521.8L237.9 521.3L238.4 520.8L238.9 520.3L239.4 519.8L239.9 519.3L240.4 518.7L240.9 518.1L241.4 517.5L241.9 516.8L242.4 516.1L242.9 515.4L243.4 514.6L243.9 513.8L244.4 512.9L244.9 511.9L245.4 510.9L245.9 509.9L246.4 508.8L246.9 507.6L247.4 506.4L247.9 505.2L248.4 503.9L248.9 502.5L249.4 501L249.9 499.4L250.4 497.7L250.9 495.9L251.4 494L251.9 492L252.4 490L252.9 487.9L253.4 485.6L253.9 483.1L254.4 480.5L254.9 477.9L255.4 475.3L255.9 472.9L256.4 470.5L256.9 468.1L257.4 465.7L257.9 463.1L258.4 460.4L258.9 457.3L259.4 453.8L259.9 450.3L260.4 446.8L260.9 443.9L261.4 441.3L261.9 438.9L262.4 436.6L262.9 434.2L263.4 431.6L263.9 428.6L264.4 425.3L264.9 421.7L265.4 418.3L265.9 415L266.4 412.1L266.9 409.3L267.4 406.4L267.9 403.7L268.4 401.1L268.9 398.6L269.4 396.4L269.9 394.4L270.4 392.7L270.9 391.1L271.4 389.4L271.9 387.8L272.4 386.3L272.9 384.8L273.4 383.5L273.9 382.3L274.4 381.3L274.9 380.5L275.4 380L275.9 379.8L276.4 379.9L276.9 380.1L277.4 380.4L277.9 381L278.4 381.6L278.9 382.4L279.4 383.3L279.9 384.2L280.4 385.3L280.9 386.5L281.4 387.7L281.9 389L282.4 390.3L282.9 391.6L283.4 393L283.9 394.6L284.4 396.5L284.9 398.7L285.4 401.2L285.9 404L286.4 406.9L286.9 410L287.4 413.2L287.9 416.8L288.4 421.2L288.9 425.8L289.4 430L289.9 433.6L290.4 437.1L290.9 440.4L291.4 443.7L291.9 447L292.4 450.3L292.9 453.6L293.4 456.7L293.9 459.8L294.4 462.8L294.9 465.7L295.4 468.5L295.9 471.2L296.4 473.8L296.9 476.3L297.4 478.7L297.9 481L298.4 483.2L298.9 485.4L299.4 487.5L299.9 489.6L300.4 491.8L300.9 494.1L301.4 496.3L301.9 498.5L302.4 500.6L302.9 502.5L303.4 504.1L303.9 505.5L304.4 506.8L304.9 508L305.4 509.1L305.9 510.2L306.4 511.2L306.9 512.2L307.4 513.1L307.9 513.9L308.4 514.8L308.9 515.5L309.4 516.3L309.9 517L310.4 517.7L310.9 518.4L311.4 519L311.9 519.6L312.4 520.3L312.9 520.8L313.4 521.4L313.9 521.9L314.4 522.4L314.9 522.9L315.4 523.3L315.9 523.7L316.4 524L316.9 524.3L317.4 524.6L317.9 524.9L318.4 525.2L318.9 525.5L319.4 525.7L319.9 526L320.4 526.2L320.9 526.5L321.4 526.7L321.9 526.9L322.4 527.1L322.9 527.2L323.4 527.4L323.9 527.6L324.4 527.7L324.9 527.8L325.4 528L325.9 528.1L326.4 528.2L326.9 528.3L327.4 528.4L327.9 528.5L328.4 528.5L328.9 528.6L329.4 528.7L329.9 528.7L330 528.7" stroke="#078507" stroke-width="1.7" fill="none" stroke-linejoin="round"/>
<path d="M259.3 528.4L259.6 528.4L259.9 528.4L260.2 528.3L260.5 528.2L260.8 528.2L261.1 528.1L261.4 528L261.7 527.9L262 527.8L262.3 527.7L262.6 527.5L262.9 527.4L263.2 527.3L263.5 527.2L263.8 527L264.1 526.9L264.4 526.7L264.7 526.6L265 526.4L265.3 526.3L265.6 526.1L265.9 525.9L266.2 525.8L266.5 525.6L266.8 525.4L267.1 525.1L267.4 524.9L267.7 524.7L268 524.4L268.3 524.1L268.6 523.8L268.9 523.5L269.2 523.2L269.5 522.9L269.8 522.5L270.1 522.1L270.4 521.7L270.7 521.3L271 520.8L271.3 520.2L271.6 519.6L271.9 518.9L272.2 518.1L272.5 517.2L272.8 516.2L273.1 514.4L273.4 512.1L273.7 509.3L274 506.5L274.3 503.8L274.6 501.5L274.9 499.2L275.2 496.4L275.5 492.8L275.8 487.2L276.1 474.1L276.4 459.8L276.7 447.5L277 436.1L277.3 427.4L277.6 420.9L277.9 415.3L278.2 409.9L278.5 404.2L278.8 398.7L279.1 393.9L279.4 390.4L279.7 387.3L280 384.7L280.3 383.1L280.6 382.8L280.9 383.5L281.2 384.9L281.5 386.7L281.8 388.8L282.1 391.5L282.4 395.1L282.7 399.3L282.7 528.7" stroke="#333" stroke-width="0.9" fill="none"/>
<rect x="299.5" y="375.6" width="84.9" height="50.1" fill="#fff" stroke="#222" stroke-width="1.3"/>
<path d="M304.4 386.3H330.2" stroke="#1e64ff" stroke-width="1.7"/>
<g transform="translate(333.6 390.9) scale(0.97 1)"><text x="0" y="0" style="font-family:&quot;Liberation Sans&quot;,sans-serif;font-size:13px;fill:#1e64ff">&#8199;04 min</text><path transform="translate(0 0) scale(0.00635 -0.00635)" d="M583 0L583 1237L223 1010L223 1180L598 1409L763 1409L763 0Z" fill="#1e64ff"/></g>
<path d="M304.4 401H330.2" stroke="#ff1010" stroke-width="1.7"/>
<g transform="translate(333.6 405.6) scale(0.97 1)"><text x="0" y="0" style="font-family:&quot;Liberation Sans&quot;,sans-serif;font-size:13px;fill:#ff1010">6&#8199; min</text><path transform="translate(7.2 0) scale(0.00635 -0.00635)" d="M583 0L583 1237L223 1010L223 1180L598 1409L763 1409L763 0Z" fill="#ff1010"/></g>
<path d="M304.4 415.8H330.2" stroke="#078507" stroke-width="1.7"/>
<text transform="translate(333.6 420.4) scale(0.97 1)" style="font-family:&quot;Liberation Sans&quot;,sans-serif;font-size:13px;fill:#078507">37 min</text>
<text transform="translate(314.6 447.2) scale(0.91 1)" style="font-family:&quot;Liberation Sans&quot;,sans-serif;font-size:15.5px">Lifshitz&#8211;</text>
<text transform="translate(320.9 464.1) scale(0.91 1)" style="font-family:&quot;Liberation Sans&quot;,sans-serif;font-size:15.5px">Slyozov</text>
<path d="M319.3 453.1L282.7 471" stroke="#222" stroke-width="0.9"/></g>
</svg>
</body></html>
